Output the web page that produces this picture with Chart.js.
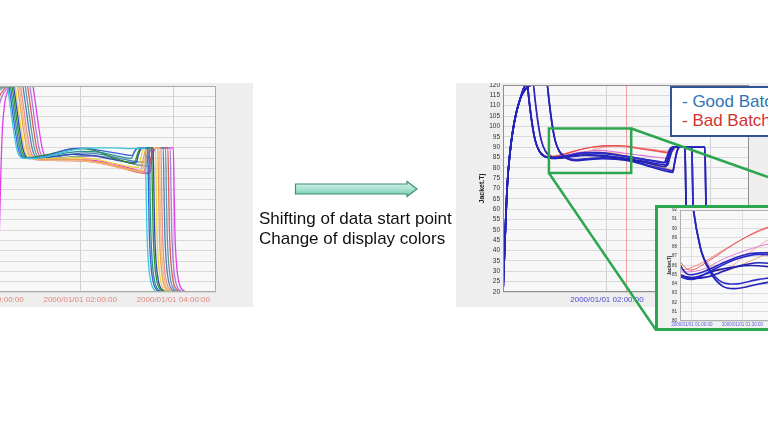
<!DOCTYPE html>
<html><head><meta charset="utf-8">
<script src="https://cdn.jsdelivr.net/npm/chart.js@4/dist/chart.umd.min.js"></script>
<style>
html,body{margin:0;padding:0;background:#fff;width:768px;height:432px;overflow:hidden;position:relative;font-family:"Liberation Sans",Arial,sans-serif;}
.abs{position:absolute;}
#leftPanel{left:0;top:83px;width:253px;height:224px;background:#eeeeee;}
#leftCv{left:-40px;top:83px;}
#rightPanel{left:456px;top:83px;width:312px;height:224px;background:#eeeeee;}
#rightCv{left:456px;top:83px;}
#overlay{left:0;top:0;}
#legendBox{left:670px;top:86px;width:140px;height:51px;box-sizing:border-box;border:2px solid #2f5597;background:#fff;padding:4px 0 0 10px;font-size:17px;line-height:19px;white-space:nowrap;}
#legendBox .g{color:#2e75b6;} #legendBox .b{color:#d23232;}
#inset{left:655px;top:205px;width:192px;height:126px;box-sizing:border-box;border:3px solid #2ca64f;background:#f1f1f1;}
#insetCv{left:658px;top:208px;}
#caption{left:259px;top:209px;font-size:17px;line-height:20px;color:#111;white-space:nowrap;}
</style></head>
<body>
<div id="leftPanel" class="abs"></div>
<canvas id="leftCv" class="abs" width="293" height="224"></canvas>
<div id="rightPanel" class="abs"></div>
<canvas id="rightCv" class="abs" width="312" height="224"></canvas>
<svg id="overlay" class="abs" width="768" height="432">
  <defs>
    <linearGradient id="arrowGrad" x1="0" y1="0" x2="0" y2="1">
      <stop offset="0" stop-color="#d9f4ec"/>
      <stop offset="0.5" stop-color="#a9e3d2"/>
      <stop offset="1" stop-color="#6cc7ab"/>
    </linearGradient>
  </defs>
  <polygon points="295.5,184 407,184 407,181.5 417,189 407,196.5 407,194 295.5,194" fill="url(#arrowGrad)" stroke="#3f8f72" stroke-width="1.2"/>
  <line id="conTop" x1="0" y1="0" x2="0" y2="0" stroke="#2ca64f" stroke-width="2.5"/>
  <line id="conBot" x1="0" y1="0" x2="0" y2="0" stroke="#2ca64f" stroke-width="2.5"/>
</svg>
<div id="legendBox" class="abs"><div class="g">- Good Batch</div><div class="b">- Bad Batch</div></div>
<div id="inset" class="abs"></div>
<canvas id="insetCv" class="abs" width="186" height="120"></canvas>
<div id="caption" class="abs">Shifting of data start point<br>Change of display colors</div>
<script>
// ---------------- DATA ----------------
// time in minutes from 2000/01/01 00:00:00, value = Jacket.Tj
const leftTickMinutes = [0, 120, 240];
const rightTickMinutes = [0, 120, 240];
const insetTickMinutes = [60, 90, 120];

// left chart (original, unshifted batches)
const leftCyan = [[0,120],[26,120],[27,118],[30,110],[34,99],[38,90],[41,86.5],[46,85],[60,84.8],[80,86],[100,88],[120,89.5],[140,90],[160,90],[180,89.6],[195,89.8],[204,90],[205,70],[206,50],[208,34],[211,25],[216,21],[224,20],[300,20]];
const leftBlue = [[0,120],[28,120],[29,118],[32,110],[36,99],[40,90],[43,86.5],[48,85],[65,85.2],[85,87],[105,89.3],[125,89.8],[145,88.8],[165,87.5],[180,86.5],[187,86.2],[190,88],[193,89.5],[197,90],[207,90],[208,70],[209,50],[211,34],[214,25],[219,21],[227,20],[300,20]];
const leftTeal = [[0,120],[30,120],[31,118],[34,110],[38,99],[42,90],[45,86.5],[50,85],[70,85.5],[95,87],[120,88.3],[145,87.8],[170,85.8],[186,84.8],[189,87.5],[192,89.3],[196,90],[209,90],[210,70],[211,50],[213,34],[216,25],[221,21],[229,20],[300,20]];
const leftGreen = [[0,120],[32,120],[33,118],[36,110],[40,99],[44,90],[47,86.5],[52,85.2],[75,86.5],[100,88.8],[120,89.6],[140,88.5],[160,85.5],[180,83],[190,82.3],[193,86],[196,89],[200,90],[212,90],[213,70],[214,50],[216,34],[219,25],[224,21],[232,20],[300,20]];
const leftNavy = [[0,120],[34,120],[35,118],[38,110],[42,99],[46,90],[49,86.5],[54,84.8],[80,85.5],[110,86.8],[135,86.3],[160,84.5],[180,83.2],[192,82.8],[195,86.5],[198,89.2],[202,90],[214,90],[215,70],[216,50],[218,34],[221,25],[226,21],[234,20],[300,20]];
const leftYellow = [[0,120],[36,120],[37,118],[40,110],[44,99],[48,90],[51,86.5],[56,85],[85,85],[115,85.3],[140,84.5],[165,82.3],[185,80.8],[195,80.5],[198,85],[201,88.8],[205,90],[217,90],[218,70],[219,50],[221,34],[224,25],[229,21],[237,20],[300,20]];
const leftOrange = [[0,120],[39,120],[40,118],[43,110],[47,99],[51,90],[54,86.5],[59,84.6],[90,84.5],[120,84.3],[145,83],[170,80.8],[190,79.3],[198,79],[201,84],[204,88.5],[208,90],[220,90],[221,70],[222,50],[224,34],[227,25],[232,21],[240,20],[300,20]];
const leftTan = [[0,120],[41,120],[42,118],[45,110],[49,99],[53,90],[56,86.5],[61,84.4],[90,84],[120,83.8],[150,82.3],[175,80],[195,78.7],[200,78.5],[203,83.5],[206,88.3],[210,90],[222,90],[223,70],[224,50],[226,34],[229,25],[234,21],[242,20],[300,20]];
const leftPink = [[0,112],[8,117],[16,119.5],[22,120],[43,120],[44,118],[47,110],[51,99],[55,90],[58,86.5],[63,84.2],[95,83.9],[125,83.5],[155,81.8],[180,79.5],[198,78.2],[202,78],[205,83],[208,88],[212,90],[224,90],[225,70],[226,50],[228,34],[231,25],[236,21],[244,20],[300,20]];
const leftSteel = [[0,108],[8,115],[16,119],[24,120],[46,120],[47,118],[50,110],[54,99],[58,90],[61,86.5],[66,85],[95,86],[125,87.5],[150,86.6],[175,84.5],[195,83.2],[203,83],[206,86.5],[209,89.2],[213,90],[227,90],[228,70],[229,50],[231,34],[234,25],[239,21],[247,20],[300,20]];
const leftSlate = [[0,100],[6,110],[14,117],[22,119.5],[28,120],[49,120],[50,118],[53,110],[57,99],[61,90],[64,86.5],[69,84.6],[100,85.3],[130,86.3],[155,85.3],[180,83],[200,81.5],[205,81.3],[208,85.5],[211,89],[215,90],[230,90],[231,70],[232,50],[234,34],[237,25],[242,21],[250,20],[300,20]];
const leftRed = [[0,70],[4,92],[9,106],[15,114],[22,118.5],[30,120],[52,120],[53,118],[56,110],[60,99],[64,90],[67,86.5],[72,84.2],[105,83.8],[135,83.4],[160,81.5],[185,79],[203,77.6],[207,77.5],[210,83],[213,88.2],[217,90],[233,90],[234,70],[235,50],[237,34],[240,25],[245,21],[253,20],[300,20]];
const leftPurple = [[0,40],[4,75],[9,97],[15,110],[22,117],[30,119.5],[36,120],[55,120],[56,118],[59,110],[63,99],[67,90],[70,86.5],[75,84.6],[105,85.3],[135,86],[160,85],[185,82.5],[204,81],[209,80.8],[212,85.5],[215,89],[219,90],[236,90],[237,70],[238,50],[240,34],[243,25],[248,21],[256,20],[300,20]];
const leftMagenta = [[0,20],[14,20],[16,50],[18,80],[20,100],[23,112],[27,118],[32,120],[59,120],[60,118],[63,110],[67,99],[71,90],[74,86.5],[79,84.5],[110,84.3],[140,83.8],[165,82],[190,79.5],[206,78],[210,77.8],[212,83],[215,88.5],[218,90],[240,90],[241,70],[242,50],[244,34],[247,25],[252,21],[260,20],[300,20]];

// right chart (shifted start point, good = blue, bad = red)
const goodA1 = [[0,20],[2,42],[5,72],[8,87],[11,97],[15,106],[20,113.5],[24,118.5],[27,120],[28,120],[30,113],[33,103],[37,93.5],[42,88],[48,85.5],[53,85],[60,84.6],[70,84.8],[85,85.8],[100,86.3],[115,86],[130,85.2],[150,84],[170,82.5],[185,81.5],[190,81.3],[192,84],[195,88],[199,90],[210,90],[211,70],[212,50],[214,34],[217,25],[222,21],[230,20],[290,20]];
const goodA2 = [[0,20],[2,42],[5,72],[8,87],[11,97],[15,106],[20,113.5],[24,118.5],[27,120],[28,120],[30,113],[33,103],[37,93.5],[42,88],[48,85.5],[53,84.8],[60,84.5],[70,85.3],[85,86.6],[100,87.2],[115,87],[130,86.2],[150,85],[170,83.5],[186,82.5],[189,85],[192,88.5],[195,90],[218,90],[219,70],[220,50],[222,34],[225,25],[230,21],[238,20],[290,20]];
const goodA3 = [[0,20],[2,42],[5,72],[8,87],[11,97],[15,106],[20,113.5],[24,118.5],[27,120],[28,120],[30,113],[33,103],[37,93.5],[42,88],[48,85.5],[53,85],[60,84.7],[75,85.5],[95,86],[115,85.6],[135,84.6],[155,83.3],[175,81.5],[188,80.5],[190,83.5],[193,88],[197,90],[210,90],[211,70],[212,50],[214,34],[217,25],[222,21],[230,20],[290,20]];
const goodB1 = [[0,20],[2,42],[5,72],[8,87],[11,97],[15,106],[20,113.5],[25,117.5],[30,119.5],[34,120],[35,120],[37,113],[40,103],[44,93.5],[49,88],[55,85.5],[59,85],[68,85.4],[80,86.4],[95,87.3],[110,87.4],[125,86.7],[140,85.6],[160,84.3],[180,83],[188,82.5],[191,85.5],[194,89],[197,90],[218,90],[219,70],[220,50],[222,34],[225,25],[230,21],[238,20],[290,20]];
const goodC1 = [[0,20],[2,42],[5,72],[8,87],[11,97],[15,106],[20,113.5],[25,117.5],[30,119.5],[35,120],[51,120],[53,113],[56,103],[60,93.5],[65,88],[71,85.3],[78,83.8],[85,83.5],[100,84],[115,84.4],[130,84.2],[150,83],[170,80.5],[190,78.2],[196,77.8],[198,82],[201,88],[204,90],[233,90],[234,70],[235,50],[237,34],[240,25],[245,21],[253,20],[290,20]];
const goodC2 = [[0,20],[2,42],[5,72],[8,87],[11,97],[15,106],[20,113.5],[25,117.5],[30,119.5],[35,120],[51,120],[53,113],[56,103],[60,93.5],[65,88],[71,85.5],[78,84.2],[85,84],[100,84.5],[115,84.8],[130,84.5],[150,83.3],[170,81],[190,79],[196,78.5],[198,82.5],[201,88.3],[204,90],[233,90],[234,70],[235,50],[237,34],[240,25],[245,21],[253,20],[290,20]];
const badB1 = [[0,20],[2,42],[5,72],[8,87],[11,97],[15,106],[20,113.5],[25,117.5],[30,119.5],[34,120],[35,120],[37,113],[40,103],[44,93.5],[49,88],[55,86],[59,85.5],[70,86.5],[85,88.3],[100,89.8],[115,90.6],[130,90.8],[145,90.3],[160,89.2],[180,88],[191,87.5],[194,89.3],[197,90],[218,90],[219,70],[220,50],[222,34],[225,25],[230,21],[238,20],[290,20]];
const badA1 = [[0,20],[2,42],[5,72],[8,87],[11,97],[15,106],[20,113.5],[24,118.5],[27,120],[28,120],[30,113],[33,103],[37,93.5],[42,88],[48,86],[53,85.5],[65,86.2],[80,87.8],[95,89.3],[110,90.3],[125,90.6],[140,90.2],[160,89],[180,87.8],[190,87.2],[193,89.5],[196,90],[210,90],[211,70],[212,50],[214,34],[217,25],[222,21],[230,20],[290,20]];
const badC1 = [[0,20],[2,42],[5,72],[8,87],[11,97],[15,106],[20,113.5],[25,117.5],[30,119.5],[35,120],[51,120],[53,113],[56,103],[60,93.5],[65,88],[71,86],[78,85.6],[95,87.5],[110,89.3],[125,90.3],[140,90.5],[160,89.5],[180,88.5],[196,88],[199,89.5],[202,90],[233,90],[234,70],[235,50],[237,34],[240,25],[245,21],[253,20],[290,20]];
const badA2 = [[0,20],[2,42],[5,72],[8,87],[11,97],[15,106],[20,113.5],[24,118.5],[27,120],[28,120],[30,113],[33,103],[37,93.5],[42,88],[48,85.7],[53,85.3],[65,85.5],[80,86.8],[95,87.8],[110,88.4],[125,88],[140,87],[160,86],[180,85],[188,84.6],[191,87],[194,89.5],[197,90],[218,90],[219,70],[220,50],[222,34],[225,25],[230,21],[238,20],[290,20]];
const badC2 = [[0,20],[2,42],[5,72],[8,87],[11,97],[15,106],[20,113.5],[25,117.5],[30,119.5],[35,120],[51,120],[53,113],[56,103],[60,93.5],[65,88],[71,85.8],[78,85.4],[95,86.5],[110,87.5],[125,87.3],[140,86],[160,83.5],[180,80.5],[196,79.2],[199,84],[202,89],[205,90],[233,90],[234,70],[235,50],[237,34],[240,25],[245,21],[253,20],[290,20]];

const cursorMinute = 142;                 // red time cursor on the right chart
const zoomWindow = {t0: 53, t1: 148, v0: 77.5, v1: 99};   // region magnified in the inset

// ---------------- STYLE / BUILD ----------------
const FONT = '"Liberation Sans", Arial, sans-serif';
Chart.defaults.font.family = FONT;

const leftDefs = [
  [leftCyan,'#3cc8dc'],[leftBlue,'#3a63d6'],[leftTeal,'#2a9090'],[leftGreen,'#2f8f2f'],
  [leftNavy,'#3048b8'],[leftYellow,'#e6d34a'],[leftOrange,'#f2a04e'],[leftTan,'#e8c28e'],
  [leftPink,'#f28a8a'],[leftSteel,'#4a80b4'],[leftSlate,'#5c9ca8'],[leftRed,'#e25a5a'],
  [leftPurple,'#a77ddf'],[leftMagenta,'#e23ee6']
];
// Chart.js paints dataset 0 last (on top): blue "good" batches first so they sit above the red ones
const goodDefs = [[goodA1,'#2323b8'],[goodA2,'#2a2ac8'],[goodA3,'#1f1fa8'],[goodB1,'#2828c0'],[goodC1,'#2323b8'],[goodC2,'#3030cc']];
const badDefs = [[badB1,'#e84848'],[badA1,'#f07878'],[badC1,'#f4a0a0'],[badC2,'#f0a060'],[badA2,'#e070d0']];

function stamp(min){
  const h = Math.floor(min/60), m = min%60;
  return '2000/01/01 ' + String(h).padStart(2,'0') + ':' + String(m).padStart(2,'0') + ':00';
}
function ds(data, color, width){
  return {data, borderColor: color, borderWidth: width, pointRadius: 0, fill: false,
          cubicInterpolationMode: 'monotone'};
}
const plotBg = {id:'plotBg', beforeDraw(chart, a, o){
  const c = chart.ctx, r = chart.chartArea; c.save(); c.fillStyle = o.color; c.fillRect(r.left, r.top, r.right-r.left, r.bottom-r.top); c.restore(); }};
const frame = {id:'frame', afterDatasetsDraw(chart, a, o){
  const c = chart.ctx, r = chart.chartArea; c.save(); c.strokeStyle = o.color; c.lineWidth = 1;
  c.strokeRect(Math.round(r.left)+0.5, Math.round(r.top)+0.5, Math.round(r.right-r.left)-1, Math.round(r.bottom-r.top)-1); c.restore(); }};
const cursor = {id:'cursor', beforeDatasetsDraw(chart, a, o){
  if (o.value == null) return;
  const c = chart.ctx, r = chart.chartArea, x = Math.round(chart.scales.x.getPixelForValue(o.value))+0.5;
  c.save(); c.strokeStyle = o.color; c.lineWidth = 1; c.beginPath(); c.moveTo(x, r.top); c.lineTo(x, r.bottom); c.stroke(); c.restore(); }};
const zoomBox = {id:'zoomBox', afterDatasetsDraw(chart, a, o){
  if (!o.win) return;
  const c = chart.ctx, xs = chart.scales.x, ys = chart.scales.y;
  const x0 = xs.getPixelForValue(o.win.t0), x1 = xs.getPixelForValue(o.win.t1);
  const y0 = ys.getPixelForValue(o.win.v1), y1 = ys.getPixelForValue(o.win.v0);
  c.save(); c.strokeStyle = o.color; c.lineWidth = 2.5; c.strokeRect(x0, y0, x1-x0, y1-y0); c.restore(); }};

function makeChart(id, datasets, cfg){
  return new Chart(document.getElementById(id), {
    type: 'line',
    data: {datasets},
    plugins: [plotBg, cursor, zoomBox, frame],
    options: {
      responsive: false, animation: false, events: [],
      layout: {padding: cfg.padding},
      plugins: {legend:{display:false}, tooltip:{enabled:false},
        plotBg:{color: cfg.bg}, frame:{color: cfg.frameColor},
        cursor:{value: cfg.cursor, color:'#f2a2a2'}, zoomBox:{win: cfg.zoom, color:'#2ca64f'}},
      scales: {
        x: {type:'linear', min: cfg.xMin, max: cfg.xMax,
            afterBuildTicks: s => { s.ticks = cfg.xTicks.map(v => ({value: v})); },
            afterFit: s => { s.height = cfg.xHeight; s.paddingLeft = 0; s.paddingRight = 0; },
            ticks: {autoSkip:false, maxRotation:0, minRotation:0, padding: cfg.xPad, color: cfg.xColor,
                    font:{size: cfg.xFont, family: FONT},
                    callback: v => (cfg.hideFirst && v === cfg.xTicks[0]) ? '' : stamp(v)},
            grid: {color: cfg.vGrid, drawTicks:false}, border:{display:false}},
        y: {type:'linear', min: cfg.yMin, max: cfg.yMax,
            afterFit: s => { s.width = cfg.yWidth; s.paddingTop = 0; s.paddingBottom = 0; },
            ticks: {display: cfg.yLabels, stepSize: cfg.yStep, autoSkip:false, padding: cfg.yPad,
                    color:'#333', font:{size: cfg.yFont, family: FONT}},
            title: {display: cfg.yLabels, text:'Jacket.Tj', color:'#222',
                    font:{size: cfg.yTitleFont, weight:'bold', family: FONT}, padding:{top: cfg.yTitlePad, bottom:0}},
            grid: {color: cfg.hGrid, drawTicks:false}, border:{display:false}}
      }
    }
  });
}

const leftChart = makeChart('leftCv', leftDefs.map(d => ds(d[0], d[1], 1.3)), {
  padding:{left:27, top:3, right:37, bottom:0}, bg:'#f8f8f8', frameColor:'#a4b2a4',
  xMin:0, xMax:295, xTicks:leftTickMinutes, xHeight:15, xPad:3, xColor:'#e3877c', xFont:8,
  vGrid:'#cfcfcf', hGrid:'#d9d9d9', yMin:20, yMax:120, yStep:5, yWidth:0, yLabels:false, yPad:3, yFont:7, yTitleFont:7, yTitlePad:0
});

const rightSets = goodDefs.map(d => ds(d[0], d[1], 1.7)).concat(badDefs.map(d => ds(d[0], d[1], 1.1)));
const rightChart = makeChart('rightCv', rightSets, {
  padding:{left:0, top:2, right:19, bottom:0}, bg:'#f7f7f7', frameColor:'#8e8e8e',
  xMin:0, xMax:284, xTicks:rightTickMinutes, xHeight:15, xPad:3, xColor:'#4b4bd2', xFont:8, hideFirst:true,
  vGrid:'#d2d2d2', hGrid:'#d9d9d9', yMin:20, yMax:120, yStep:5, yWidth:47, yLabels:true, yPad:3, yFont:6.5, yTitleFont:7, yTitlePad:22,
  cursor: cursorMinute, zoom: zoomWindow
});

const insetSets = goodDefs.map(d => ds(d[0], d[1], 1.7)).concat(badDefs.map(d => ds(d[0], d[1], 0.9)));
const insetChart = makeChart('insetCv', insetSets, {
  padding:{left:0, top:2, right:4, bottom:0}, bg:'#f8f8f8', frameColor:'#b0b0b0',
  xMin:53, xMax:148, xTicks:insetTickMinutes, xHeight:7, xPad:1, xColor:'#5a5ae0', xFont:4.5,
  vGrid:'#dedede', hGrid:'#dedede', yMin:80, yMax:92, yStep:1, yWidth:22, yLabels:true, yPad:3, yFont:4.5, yTitleFont:4.5, yTitlePad:9
});

// connectors from the zoom window on the right chart to the inset frame
(function(){
  const cv = document.getElementById('rightCv');
  const ox = cv.offsetLeft, oy = cv.offsetTop;
  const xs = rightChart.scales.x, ys = rightChart.scales.y;
  const boxRight = ox + xs.getPixelForValue(zoomWindow.t1), boxLeft = ox + xs.getPixelForValue(zoomWindow.t0);
  const boxTop = oy + ys.getPixelForValue(zoomWindow.v1), boxBottom = oy + ys.getPixelForValue(zoomWindow.v0);
  const ins = document.getElementById('inset');
  const iL = ins.offsetLeft, iT = ins.offsetTop, iR = iL + ins.offsetWidth, iB = iT + ins.offsetHeight;
  const t = document.getElementById('conTop'), b = document.getElementById('conBot');
  t.setAttribute('x1', boxRight); t.setAttribute('y1', boxTop); t.setAttribute('x2', iR); t.setAttribute('y2', iT);
  b.setAttribute('x1', boxLeft); b.setAttribute('y1', boxBottom); b.setAttribute('x2', iL + 1); b.setAttribute('y2', iB - 1);
})();
</script>
</body></html>
